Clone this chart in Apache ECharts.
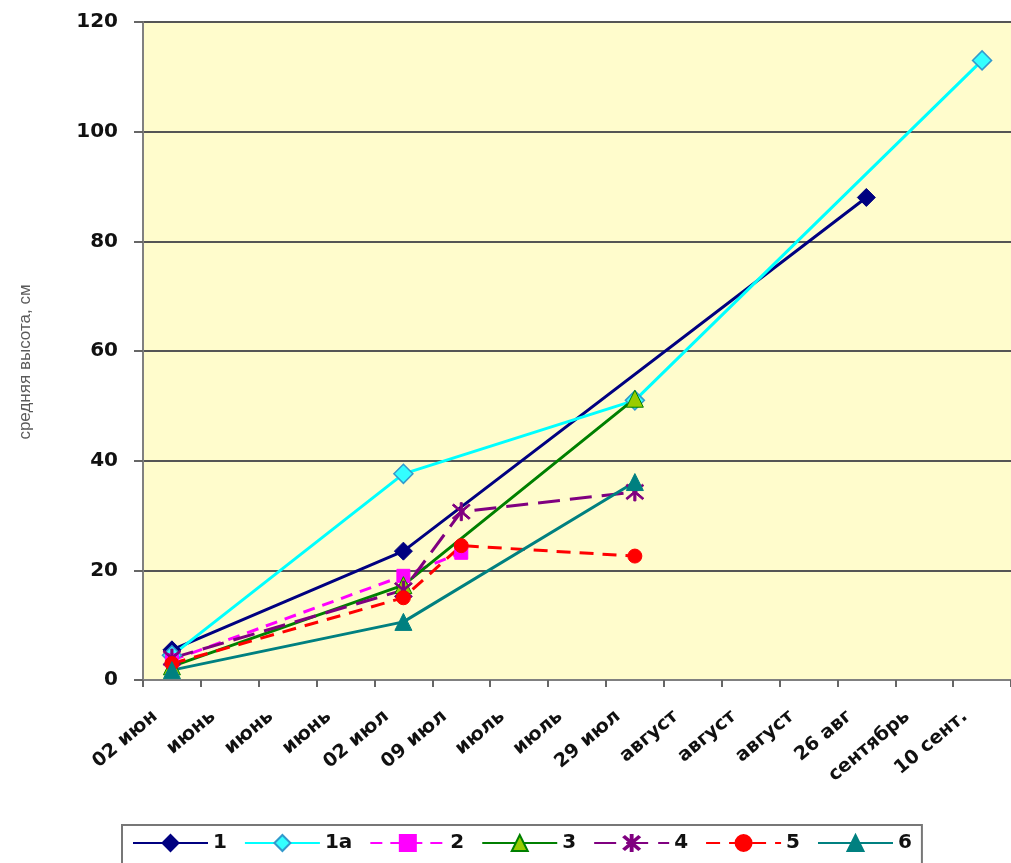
<!DOCTYPE html>
<html>
<head>
<meta charset="utf-8">
<script src="https://cdn.jsdelivr.net/npm/echarts@6/dist/echarts.min.js"></script>
<style>
  html, body { margin: 0; padding: 0; background: #ffffff; }
  #chart { width: 1011px; height: 863px; }
</style>
</head>
<body>
<div id="chart"></div>
<script>
// Dates of measurement (x-axis categories)
const categories = ['02 июн', 'июнь', 'июнь', 'июнь', '02 июл', '09 июл', 'июль', 'июль',
  '29 июл', 'август', 'август', 'август', '26 авг', 'сентябрь', '10 сент.'];

// Average plant height, cm; null where no measurement was taken
const s1  = [5.5, null, null, null, 23.5, null, null, null, null, null, null, null, 88, null, null];
const s1a = [4.5, null, null, null, 37.6, null, null, null, 51, null, null, null, null, null, 113];
const s2  = [3.6, null, null, null, 19, 23.2, null, null, null, null, null, null, null, null, null];
const s3  = [2.5, null, null, null, 17.3, null, null, null, 51.3, null, null, null, null, null, null];
const s4  = [4, null, null, null, 16.4, 30.7, null, null, 34.3, null, null, null, null, null, null];
const s5  = [3, null, null, null, 15, 24.5, null, null, 22.6, null, null, null, null, null, null];
const s6  = [1.8, null, null, null, 10.6, null, null, null, 36.1, null, null, null, null, null, null];

const legendNames = ['1', '1a', '2', '3', '4', '5', '6'];
const yTicks = { min: 0, max: 120, interval: 20 };
const yTitle = 'средняя высота, см';

const boldFont = 'DejaVu Sans, Verdana, sans-serif';
const asterisk = 'path://M9 0L11 0L11 20L9 20Z M1.5 2.9L2.9 1.5L18.5 17.1L17.1 18.5Z M17.1 1.5L18.5 2.9L2.9 18.5L1.5 17.1Z';

function line(name, data, color, opts) {
  return Object.assign({
    name: name,
    type: 'line',
    data: data,
    connectNulls: true,
    symbolSize: 14,
    lineStyle: { color: color, width: 3, type: 'solid' },
    itemStyle: { color: color, borderColor: color, borderWidth: 1 },
    emphasis: { disabled: true },
    z: 3
  }, opts);
}

const chart = echarts.init(document.getElementById('chart'), null, { renderer: 'canvas' });

chart.setOption({
  animation: false,
  backgroundColor: '#ffffff',
  grid: {
    left: 143, top: 22, right: -9, bottom: 183,
    show: true, backgroundColor: '#fffccc', borderWidth: 0
  },
  graphic: [{
    type: 'text',
    x: 25, y: 362,
    rotation: Math.PI / 2,
    style: {
      text: yTitle,
      fontFamily: 'Liberation Sans, Arial, sans-serif',
      fontSize: 17,
      fill: '#5a5a5a',
      align: 'center',
      verticalAlign: 'middle'
    }
  }],
  xAxis: {
    type: 'category',
    data: categories,
    boundaryGap: true,
    axisLine: { lineStyle: { color: '#808080', width: 2 } },
    axisTick: { show: true, length: 7, lineStyle: { color: '#666', width: 2 } },
    axisLabel: {
      interval: 0, rotate: 40, margin: 20,
      padding: [0, 22, 0, 0],
      fontFamily: boldFont,
      fontWeight: 'bold', fontSize: 19, color: '#111'
    },
    splitLine: { show: false }
  },
  yAxis: {
    type: 'value',
    min: yTicks.min, max: yTicks.max, interval: yTicks.interval,
    axisLine: { show: true, lineStyle: { color: '#808080', width: 2 } },
    axisTick: { show: true, length: 9, lineStyle: { color: '#666', width: 2 } },
    axisLabel: {
      margin: 25,
      fontFamily: boldFont,
      fontWeight: 'bold', fontSize: 20, color: '#111'
    },
    splitLine: { lineStyle: { color: '#555', width: 2 } }
  },
  legend: {
    left: 122, top: 825,
    itemWidth: 75, itemHeight: 20, itemGap: 17,
    padding: [8, 10, 12, 10],
    borderColor: '#777', borderWidth: 2,
    backgroundColor: '#ffffff',
    textStyle: { fontFamily: boldFont, fontWeight: 'bold', fontSize: 20, color: '#111' },
    data: legendNames
  },
  series: [
    line('1', s1, '#000080', { symbol: 'diamond', symbolSize: 18 }),
    line('1a', s1a, '#00ffff', {
      symbol: 'diamond', symbolSize: 19,
      itemStyle: { color: '#33ffff', borderColor: '#3399cc', borderWidth: 1.5 }
    }),
    line('2', s2, '#ff00ff', { symbol: 'rect', symbolSize: 13, lineStyle: { color: '#ff00ff', width: 3, type: [12, 8] } }),
    line('3', s3, '#008000', {
      symbol: 'triangle', symbolSize: 17,
      itemStyle: { color: '#99cc00', borderColor: '#008000', borderWidth: 1 }
    }),
    line('4', s4, '#800080', {
      symbol: asterisk, symbolSize: 18,
      lineStyle: { color: '#800080', width: 3, type: [22, 10] }
    }),
    line('5', s5, '#ff0000', { symbol: 'circle', symbolSize: 14, lineStyle: { color: '#ff0000', width: 3, type: [14, 9] } }),
    line('6', s6, '#008080', { symbol: 'triangle', symbolSize: 17 })
  ]
});
</script>
</body>
</html>
